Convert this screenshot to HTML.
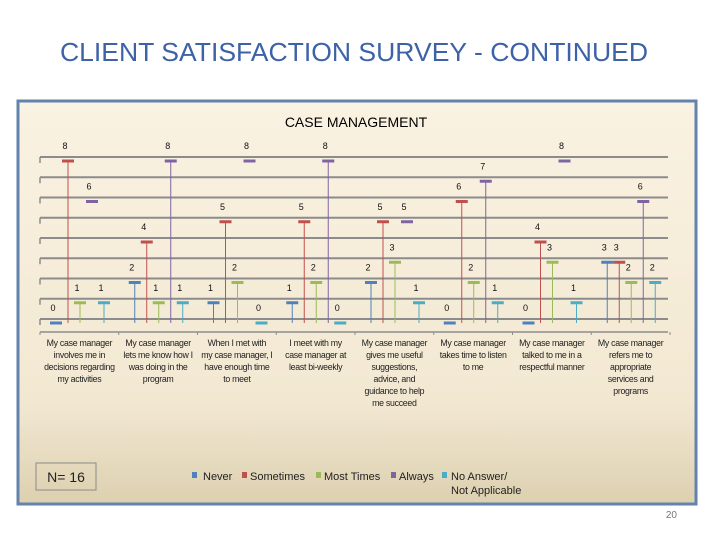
<!DOCTYPE html>
<html><head><meta charset="utf-8"><style>
body{margin:0;width:720px;height:540px;background:#fff;overflow:hidden;font-family:"Liberation Sans",sans-serif;}
</style></head><body>
<svg width="720" height="540" xmlns="http://www.w3.org/2000/svg">
<defs><linearGradient id="bg" x1="0" y1="0" x2="0" y2="1"><stop offset="0" stop-color="#faf2e2"/><stop offset="0.75" stop-color="#f2e8d2"/><stop offset="1" stop-color="#ddd0b0"/></linearGradient></defs>
<text x="354" y="61" text-anchor="middle" font-size="26" textLength="588" lengthAdjust="spacingAndGlyphs" fill="#3d62a8">CLIENT SATISFACTION SURVEY - CONTINUED</text>
<rect x="18" y="101" width="678" height="403" fill="url(#bg)" stroke="#6283ad" stroke-width="3"/>
<text x="356" y="127" text-anchor="middle" font-size="14" fill="#000">CASE MANAGEMENT</text>
<g id="plot"></g>
<rect x="36" y="463" width="60" height="27" fill="none" stroke="#8a8a8a"/>
<text x="66" y="482" text-anchor="middle" font-size="14" fill="#222">N= 16</text>
<g font-size="11" fill="#222">
<g><rect x="192" y="472" width="5" height="6" fill="#4f81bd"/><text x="203" y="480">Never</text></g>
<g><rect x="242" y="472" width="5" height="6" fill="#c0504d"/><text x="250" y="480">Sometimes</text></g>
<g><rect x="316" y="472" width="5" height="6" fill="#9bbb59"/><text x="324" y="480">Most Times</text></g>
<g><rect x="391" y="472" width="5" height="6" fill="#8064a2"/><text x="399" y="480">Always</text></g>
<g><rect x="442" y="472" width="5" height="6" fill="#4bacc6"/><text x="451" y="480">No Answer/</text><text x="451" y="494">Not Applicable</text></g>
</g>
<text x="677" y="518" text-anchor="end" font-size="10" fill="#777">20</text>
</svg>
<script>
const categories=[
["My case manager","involves me in","decisions regarding","my activities"],
["My case manager","lets me know how I","was doing in the","program"],
["When I met with","my case manager, I","have enough time","to meet"],
["I meet with my","case manager at","least bi-weekly"],
["My case manager","gives me useful","suggestions,","advice, and","guidance to help","me succeed"],
["My case manager","takes time to listen","to me"],
["My case manager","talked to me in a","respectful manner"],
["My case manager","refers me to","appropriate","services and","programs"]];
const never=[0,2,1,1,2,0,0,3];
const sometimes=[8,4,5,5,5,6,4,3];
const mostTimes=[1,1,2,2,3,2,3,2];
const always=[6,8,8,8,5,7,8,6];
const noAnswer=[1,1,0,0,1,1,1,2];
const alwaysHasDropLine=[false,true,false,true,false,true,false,true];
const yTicks=[0,1,2,3,4,5,6,7,8];
const seriesNames=["never","sometimes","most-times","always","no-answer"];
const colors=["#4f81bd","#c0504d","#9bbb59","#8064a2","#4bacc6"];
const NS="http://www.w3.org/2000/svg";
const g=document.getElementById('plot');
const x0=40,x1=670,catW=(x1-x0)/categories.length;
const yv=v=>323-20.25*v;
const xs=(c,s)=>x0+catW*c+16+12*s;
function mk(t,a){const e=document.createElementNS(NS,t);for(const k in a)e.setAttribute(k,a[k]);g.appendChild(e);return e;}
yTicks.forEach(t=>{const y=yv(t)-4;
 const l=mk('line',{x1:x0,x2:x1-2,y1:y,y2:y,stroke:'#8c8c8c','stroke-width':2});
 
 
 const k=mk('line',{x1:x0,x2:x0,y1:y,y2:y+6,stroke:'#8c8c8c','stroke-width':1.5});
 
 });
const ax=mk('line',{x1:x0,x2:x1-2,y1:332,y2:332,stroke:'#8c8c8c','stroke-width':1.5});


for(let i=0;i<=categories.length;i++){const x=x0+catW*i;const t=mk('line',{x1:x,x2:x,y1:332,y2:335,stroke:'#8c8c8c'});
 
 }
const all=[never,sometimes,mostTimes,always,noAnswer];
categories.forEach((lines,c)=>{
 const tx=mk('text',{x:x0+catW*(c+0.5),y:346,'text-anchor':'middle','font-size':'8.8',fill:'#222','letter-spacing':'-0.3'});
 
 
 lines.forEach((ln,i)=>{const ts=document.createElementNS(NS,'tspan');ts.setAttribute('x',x0+catW*(c+0.5));ts.setAttribute('dy',i?12:0);ts.textContent=ln;tx.appendChild(ts);});
 all.forEach((arr,s)=>{const v=arr[c],x=xs(c,s),y=yv(v);
  const showLine=v>0&&(s!==3||alwaysHasDropLine[c]);
  if(showLine){const dl=mk('line',{x1:x,x2:x,y1:y,y2:323,stroke:colors[s],'stroke-width':1});
   
   }
  const m=mk('rect',{x:x-6,y:y-1.5,width:12,height:3,fill:colors[s]});
  
  
  const lb=mk('text',{x:x-3,y:y-12,'text-anchor':'middle','font-size':'9',fill:'#111'});
  lb.textContent=v;
  
  
 });
});
</script>
</body></html>
